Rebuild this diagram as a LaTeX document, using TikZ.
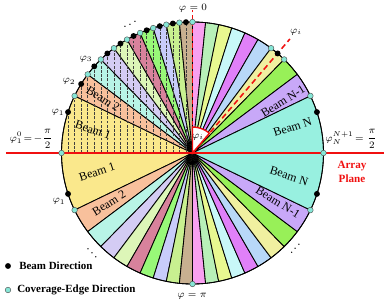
\documentclass[tikz,border=0pt]{standalone}
\usepackage{amsmath, amssymb}
\usepackage{fontspec}
\setmainfont{Liberation Serif}
\usepackage{tikz}
\usetikzlibrary{arrows.meta, calc}
\usepackage{xcolor}

% 扇區顏色 (beam 1 ... beam 20)
\definecolor{bc1}{HTML}{FAE88C}
\definecolor{bc2}{HTML}{F8C09C}
\definecolor{bc3}{HTML}{B8F4E6}
\definecolor{bc4}{HTML}{D4CCF4}
\definecolor{bc5}{HTML}{DDF6B8}
\definecolor{bc6}{HTML}{D8829C}
\definecolor{bc7}{HTML}{98F878}
\definecolor{bc8}{HTML}{C8CCFA}
\definecolor{bc9}{HTML}{C8F090}
\definecolor{bc10}{HTML}{C8B090}
\definecolor{bc11}{HTML}{F8A0F0}
\definecolor{bc12}{HTML}{B8F0B8}
\definecolor{bc13}{HTML}{E8F890}
\definecolor{bc14}{HTML}{C8F8F8}
\definecolor{bc15}{HTML}{E080F8}
\definecolor{bc16}{HTML}{B8D8F8}
\definecolor{bc17}{HTML}{F0F0A0}
\definecolor{bc18}{HTML}{98F058}
\definecolor{bc19}{HTML}{C8A8F8}
\definecolor{bc20}{HTML}{98F0E0}
\definecolor{edgecyan}{HTML}{86E6D6}
\definecolor{planered}{HTML}{F01010}

\tikzset{
  beamdot/.style={circle, fill=black, inner sep=0pt, minimum size=4.2pt},
  edgedot/.style={circle, fill=edgecyan, draw=black!70, line width=0.3pt, inner sep=0pt, minimum size=4pt},
  beamlbl/.style={font=\fontsize{8.5}{9}\selectfont},
  philbl/.style={font=\fontsize{7}{8}\selectfont, inner sep=0pt},
  dotslbl/.style={font=\fontsize{6}{7}\selectfont, inner sep=0pt},
  legendlbl/.style={font=\fontsize{7.8}{9}\selectfont\bfseries, anchor=west, inner sep=0pt},
}

\begin{document}
\begin{tikzpicture}[scale=0.025]
  \useasboundingbox (-192.5,-150) rectangle (195.5,153);
  \def\R{131}

  % 上半與下半的扇區 (sin 等間隔)
  \foreach \k in {1,...,20}{
    \pgfmathsetmacro\pa{90-asin(-1+(\k-1)/10)}
    \pgfmathsetmacro\pb{90-asin(-1+\k/10)}
    \filldraw[fill=bc\k, draw=black, line width=0.6pt]
      (0,0) -- (\pa:\R) arc[start angle=\pa, end angle=\pb, radius=\R] -- cycle;
    \filldraw[fill=bc\k, draw=black, line width=0.6pt]
      (0,0) -- (-\pa:\R) arc[start angle=-\pa, end angle=-\pb, radius=\R] -- cycle;
  }

  % 左上象限的垂直虛線
  \foreach \j in {1,...,19}{
    \pgfmathsetmacro\hx{-\R*\j/20}
    \pgfmathsetmacro\hy{\R*sqrt(1-(\j/20)*(\j/20))}
    \draw[black!75, line width=0.3pt, dash pattern=on 2pt off 1pt] (\hx,0) -- (\hx,\hy);
  }

  % 外圓
  \draw[black, line width=0.6pt] (0,0) circle[radius=\R];

  % 陣列平面與參考方向
  \draw[planered, line width=1.3pt] (-186.5,0) -- (191.5,0);
  \draw[planered, line width=1pt, dash pattern=on 3pt off 2pt] (0,0) -- (0,143);
  \draw[planered, line width=1.1pt, dash pattern=on 4pt off 2.5pt] (0,0) -- (49.5:150);
  \filldraw[fill=white, draw=planered, line width=1pt]
    (0,0) -- (90:26) arc[start angle=90, end angle=49.5, radius=26] -- cycle;

  % 覆蓋邊界方向 (cyan)
  \foreach \j in {0,...,10,16,17,19,20}{
    \pgfmathsetmacro\ea{90-asin(-1+\j/10)}
    \node[edgedot] (ce\j) at (\ea:\R) {};
  }
  \foreach \j in {1,10,19}{
    \pgfmathsetmacro\ea{-(90-asin(-1+\j/10))}
    \node[edgedot] (cf\j) at (\ea:\R) {};
  }

  % 波束方向 (black)
  \foreach \k in {1,...,10,17,20}{
    \pgfmathsetmacro\ba{90-asin(-1+(2*\k-1)/20)}
    \node[beamdot] (bd\k) at (\ba:\R) {};
  }
  \foreach \k in {1,20}{
    \pgfmathsetmacro\ba{-(90-asin(-1+(2*\k-1)/20))}
    \node[beamdot] (be\k) at (\ba:\R) {};
  }

  % 波束標籤
  \node[beamlbl, rotate=-18.2] (b1u) at (-99.5,23) {Beam 1};
  \node[beamlbl, rotate=-31.8] (b2u) at (-89.5,54) {Beam 2};
  \node[beamlbl, rotate=31.8] (bmu) at (90.5,52) {Beam N-1};
  \node[beamlbl, rotate=18.2] (bnu) at (100,26) {Beam N};
  \node[beamlbl, rotate=18.2] (b1d) at (-95.5,-19) {Beam 1};
  \node[beamlbl, rotate=31.8] (b2d) at (-83.5,-50) {Beam 2};
  \node[beamlbl, rotate=-18.2] (bnd) at (96.5,-23) {Beam N};
  \node[beamlbl, rotate=-31.8] (bmd) at (85.5,-49) {Beam N-1};

  % 角度標籤
  \node[philbl] (p0) at (0.5,145) {$\varphi = 0$};
  \node[philbl] (ppi) at (-0.5,-143) {$\varphi = \pi$};
  \node[philbl] (pio) at (103.5,121) {$\varphi_i$};
  \node[philbl] (pic) at (5.5,16) {$\varphi_i$};
  \node[philbl, anchor=east] (pl) at (-139.5,14) {$\varphi_1^0\!=\!-\dfrac{\pi}{2}$};
  \node[philbl, anchor=west] (pr) at (132.5,14) {$\varphi_N^{N+1}\!=\dfrac{\pi}{2}$};
  \node[philbl] (p1u) at (-134.5,40.3) {$\varphi_1$};
  \node[philbl] (p2u) at (-123.5,71.3) {$\varphi_2$};
  \node[philbl] (p3u) at (-106.5,94) {$\varphi_3$};
  \node[philbl] (p1d) at (-133.5,-48.7) {$\varphi_1$};

  % 省略號
  \node[dotslbl, rotate=25] (dl) at (-61.5,129) {$\boldsymbol{\cdots}$};
  \node[dotslbl, rotate=-45] (dbl) at (-99.8,-101) {$\boldsymbol{\cdots}$};
  \node[dotslbl, rotate=47.5] (dbr) at (103.5,-94.7) {$\boldsymbol{\cdots}$};

  % Array Plane
  \node[font=\fontsize{7.9}{9.5}\selectfont\bfseries, text=planered, align=center] (ap) at (159.5,-19) {Array\\Plane};

  % 圖例
  \node[beamdot] (lg1) at (-184.5,-113) {};
  \node[legendlbl] (lt1) at (-173.5,-113) {Beam Direction};
  \node[edgedot] (lg2) at (-184.5,-137) {};
  \node[legendlbl] (lt2) at (-175.5,-137) {Coverage-Edge Direction};
\end{tikzpicture}
\end{document}
